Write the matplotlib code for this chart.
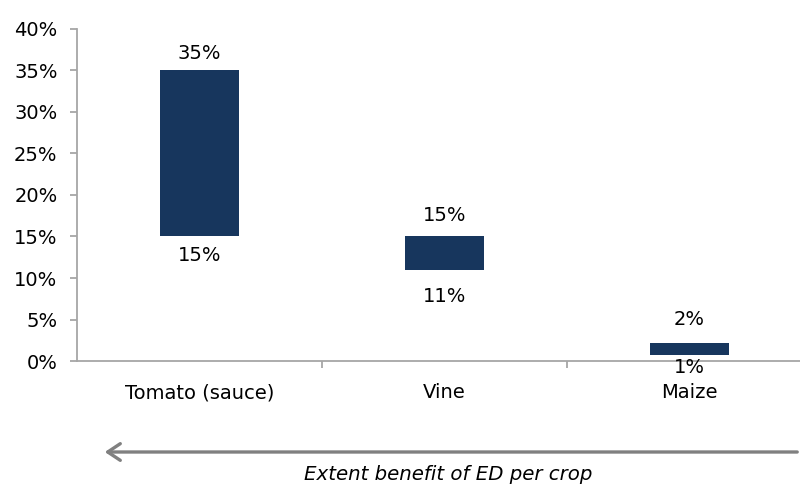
import matplotlib
matplotlib.use("Agg")
import matplotlib.pyplot as plt
from matplotlib.ticker import PercentFormatter, FixedLocator

categories = ["Tomato (sauce)", "Vine", "Maize"]
low_values = [15.0, 11.0, 0.7]
high_values = [35.0, 15.0, 2.2]
low_labels = ["15%", "11%", "1%"]
high_labels = ["35%", "15%", "2%"]
y_ticks = [0, 5, 10, 15, 20, 25, 30, 35, 40]

# label offsets from bar ends, in pixels (layout only)
high_offsets_px = [17, 21, 23]
low_offsets_px = [19, 27, 12]

plt.rcParams['font.family'] = ['DejaVu Sans']

fig = plt.figure(figsize=(8, 4.86), dpi=100)
ax = fig.add_axes([77 / 800, 1 - 361 / 486, 735 / 800, (361 - 29) / 486])

bar_color = "#17365d"
axis_grey = "#a6a6a6"
fs = 14
x = list(range(len(categories)))
heights = [h - l for h, l in zip(high_values, low_values)]
ax.bar(x, heights, bottom=low_values, width=0.32, color=bar_color, zorder=3)

px2pt = 72 / 100
for xi, lo, hi, ll, hl, ho, lo_off in zip(x, low_values, high_values, low_labels,
                                           high_labels, high_offsets_px, low_offsets_px):
    ax.annotate(hl, (xi, hi), xytext=(0, ho * px2pt), textcoords="offset points",
                ha="center", va="center", fontsize=fs, color="black")
    ax.annotate(ll, (xi, lo), xytext=(0, -lo_off * px2pt), textcoords="offset points",
                ha="center", va="center", fontsize=fs, color="black", zorder=5,
                annotation_clip=False)

ax.set_xlim(-0.5, len(categories) - 0.5)
ax.set_ylim(0, 40)
ax.set_yticks(y_ticks)
ax.yaxis.set_major_formatter(PercentFormatter(decimals=0))
ax.set_xticks(x)
ax.set_xticklabels(categories)
ax.xaxis.set_minor_locator(FixedLocator([i + 0.5 for i in x[:-1]]))

for s in ["top", "right"]:
    ax.spines[s].set_visible(False)
for s in ["left", "bottom"]:
    ax.spines[s].set_color(axis_grey)
    ax.spines[s].set_linewidth(1.3)

ax.tick_params(axis="y", which="major", direction="out", length=5, color=axis_grey,
               labelsize=fs, pad=9, width=1.3)
ax.tick_params(axis="x", which="major", length=0, labelsize=fs, pad=16)
ax.tick_params(axis="x", which="minor", direction="out", length=5, color=axis_grey, width=1.3)

# arrow below chart
fig.patches.append(matplotlib.patches.FancyArrowPatch(
    (800 / 800, 1 - 452 / 486), (102 / 800, 1 - 452 / 486),
    transform=fig.transFigure, arrowstyle="->,head_length=9,head_width=6",
    color="#808080", linewidth=2.4, mutation_scale=1))

fig.text(448 / 800, 1 - 474 / 486, "Extent benefit of ED per crop",
         ha="center", va="center", fontsize=14.2, style="italic")

fig.savefig("out.png", dpi=100)
